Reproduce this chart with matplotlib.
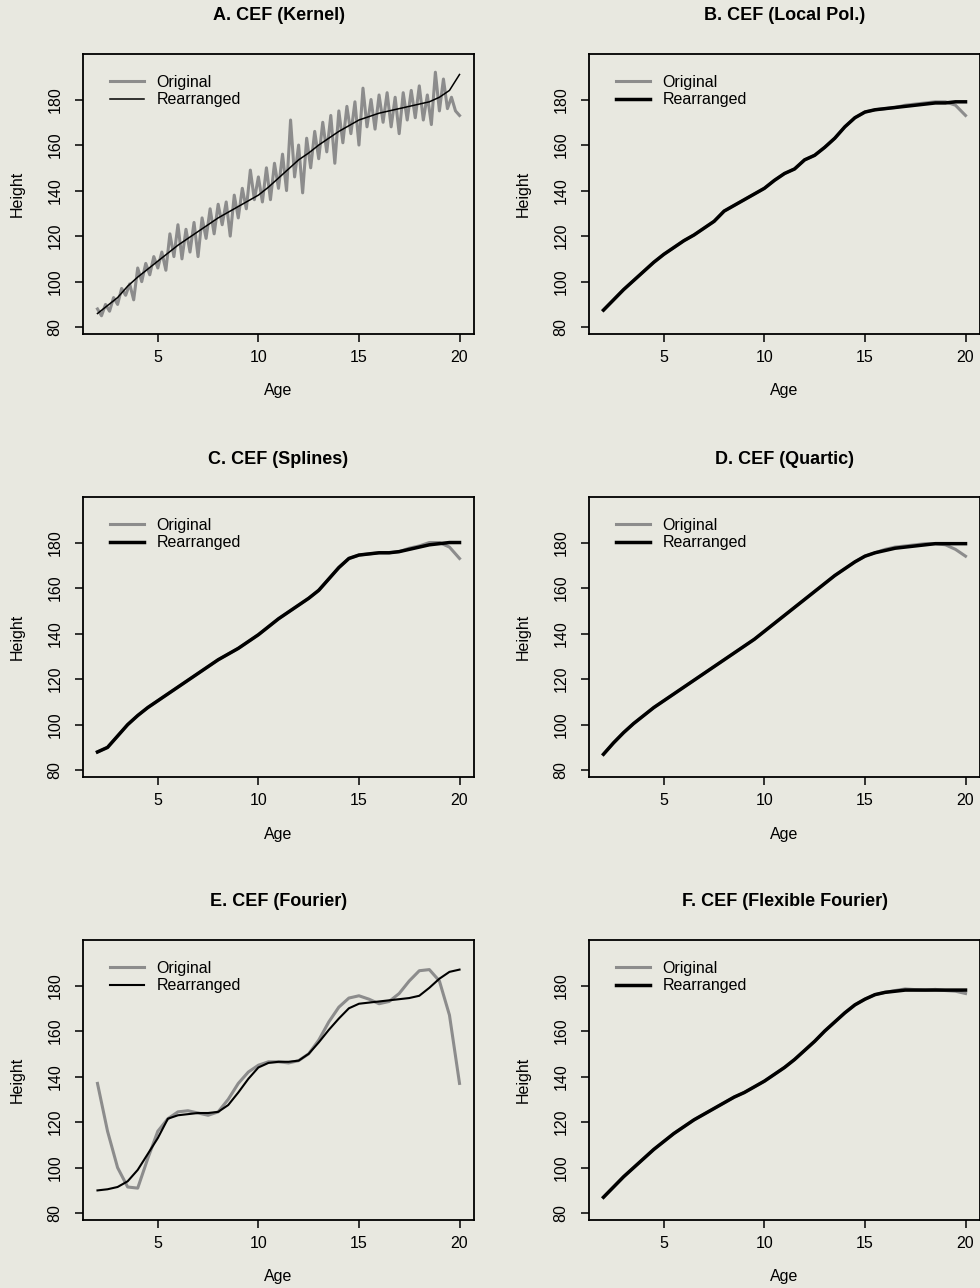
import matplotlib.pyplot as plt
import numpy as np

plt.rcParams['font.family'] = ['Liberation Sans', 'DejaVu Sans']

# evaluation grids (years of age)
ages_fine = np.round(np.arange(2.0, 20.01, 0.2), 1)
ages = np.round(np.arange(2.0, 20.01, 0.5), 1)

x_ticks = [5, 10, 15, 20]
y_ticks = [80, 100, 120, 140, 160, 180]

# A. kernel estimate (wiggly) and its rearrangement
kernel_original = [
    88, 85, 90, 87, 93, 90, 97, 94, 99, 92,
    106, 100, 108, 103, 111, 106, 113, 105, 121, 111,
    125, 110, 123, 113, 126, 111, 128, 119, 132, 121,
    134, 125, 135, 120, 138, 128, 141, 132, 149, 136,
    146, 135, 150, 136, 152, 141, 156, 140, 171, 146,
    160, 139, 163, 150, 166, 154, 170, 157, 173, 152,
    175, 161, 177, 165, 179, 160, 185, 168, 180, 167,
    182, 170, 183, 168, 181, 165, 183, 171, 184, 172,
    186, 171, 182, 169, 192, 175, 189, 176, 181, 175,
    173]
kernel_rearranged = [
    86, 89.5, 93, 98, 102, 105.5, 109, 112.5, 116, 119,
    122, 125, 128, 130.5, 133, 135.5, 138, 141.5, 145.5, 149.5,
    153.5, 156.5, 160, 163, 166, 168.5, 171, 172.5, 174, 175,
    176, 177, 178, 179, 181, 184, 191]

# B. local polynomial
locpol_original = [
    87.5, 92, 96.5, 100.5, 104.5, 108.5, 112, 115, 118, 120.5,
    123.5, 126.5, 131, 133.5, 136, 138.5, 141, 144.5, 147.5, 149.5,
    153.5, 155.5, 159, 163, 168, 172, 174.5, 175.5, 176, 176.5,
    177.5, 178, 178.5, 179, 179, 177.5, 173]
locpol_rearranged = [
    87.5, 92, 96.5, 100.5, 104.5, 108.5, 112, 115, 118, 120.5,
    123.5, 126.5, 131, 133.5, 136, 138.5, 141, 144.5, 147.5, 149.5,
    153.5, 155.5, 159, 163, 168, 172, 174.5, 175.5, 176, 176.5,
    177, 177.5, 178, 178.5, 178.5, 179, 179]

# C. splines
splines_original = [
    88, 90, 95, 100, 104, 107.5, 110.5, 113.5, 116.5, 119.5,
    122.5, 125.5, 128.5, 131, 133.5, 136.5, 139.5, 143, 146.5, 149.5,
    152.5, 155.5, 159, 164, 169, 173, 174.5, 175, 175.5, 175.5,
    176, 177.5, 178.5, 180, 180, 178, 173]
splines_rearranged = [
    88, 90, 95, 100, 104, 107.5, 110.5, 113.5, 116.5, 119.5,
    122.5, 125.5, 128.5, 131, 133.5, 136.5, 139.5, 143, 146.5, 149.5,
    152.5, 155.5, 159, 164, 169, 173, 174.5, 175, 175.5, 175.5,
    176, 177, 178, 179, 179.5, 180, 180]

# D. quartic
quartic_original = [
    87, 92, 96.5, 100.5, 104, 107.5, 110.5, 113.5, 116.5, 119.5,
    122.5, 125.5, 128.5, 131.5, 134.5, 137.5, 141, 144.5, 148, 151.5,
    155, 158.5, 162, 165.5, 168.5, 171.5, 174, 175.5, 177, 178,
    178.5, 179, 179.5, 179.5, 179, 177, 174]
quartic_rearranged = [
    87, 92, 96.5, 100.5, 104, 107.5, 110.5, 113.5, 116.5, 119.5,
    122.5, 125.5, 128.5, 131.5, 134.5, 137.5, 141, 144.5, 148, 151.5,
    155, 158.5, 162, 165.5, 168.5, 171.5, 174, 175.5, 176.5, 177.5,
    178, 178.5, 179, 179.5, 179.5, 179.5, 179.5]

# E. Fourier
fourier_original = [
    137, 116, 100, 91.5, 91, 104, 116, 121.5, 124.5, 125,
    124, 123, 124.5, 130, 137, 142, 145, 146.5, 146.5, 146,
    147, 150, 156, 164, 170.5, 174.5, 175.5, 174, 172, 173,
    176.5, 182, 186.5, 187, 182, 167, 137]
fourier_rearranged = [
    90, 90.5, 91.5, 94, 99, 106, 113, 121.5, 123, 123.5,
    124, 124, 124.5, 127.5, 133, 139, 144, 146, 146.5, 146.5,
    147, 150, 155, 160.5, 165.5, 170, 172, 172.5, 173, 173.5,
    174, 174.5, 175.5, 179, 183, 186, 187]

# F. flexible Fourier
flexfourier_original = [
    87, 91.5, 96, 100, 104, 108, 111.5, 115, 118, 121,
    123.5, 126, 128.5, 131, 133, 135.5, 138, 141, 144, 147.5,
    151.5, 155.5, 160, 164, 168, 171.5, 174, 176, 177, 177.8,
    178.5, 178.2, 178, 178.3, 177.8, 177.5, 176.5]
flexfourier_rearranged = [
    87, 91.5, 96, 100, 104, 108, 111.5, 115, 118, 121,
    123.5, 126, 128.5, 131, 133, 135.5, 138, 141, 144, 147.5,
    151.5, 155.5, 160, 164, 168, 171.5, 174, 176, 177, 177.5,
    178, 178, 178, 178, 178, 178, 178]

panels = [
    ("A. CEF (Kernel)", ages_fine, kernel_original, ages, kernel_rearranged, 1.1),
    ("B. CEF (Local Pol.)", ages, locpol_original, ages, locpol_rearranged, 2.5),
    ("C. CEF (Splines)", ages, splines_original, ages, splines_rearranged, 2.5),
    ("D. CEF (Quartic)", ages, quartic_original, ages, quartic_rearranged, 2.5),
    ("E. CEF (Fourier)", ages, fourier_original, ages, fourier_rearranged, 1.5),
    ("F. CEF (Flexible Fourier)", ages, flexfourier_original, ages, flexfourier_rearranged, 2.5),
]

BG = '#e8e8e0'
GRAY = '#8c8c8c'
FW, FH = 980, 1288
col_left = [83, 589]
row_top = [54, 497, 940]
W, H = 391, 280

fig = plt.figure(figsize=(FW / 100, FH / 100), dpi=100, facecolor=BG)

for i, (title, xo, yo, xr, yr, lw_r) in enumerate(panels):
    r, c = divmod(i, 2)
    ax = fig.add_axes((col_left[c] / FW, (FH - row_top[r] - H) / FH, W / FW, H / FH),
                      facecolor=BG)
    ax.plot(xo, yo, color=GRAY, lw=2.2, label='Original', solid_joinstyle='round')
    ax.plot(xr, yr, color='black', lw=lw_r, label='Rearranged')

    ax.set_xlim(1.28, 20.72)
    ax.set_ylim(77, 200)
    ax.set_xticks(x_ticks)
    ax.set_yticks(y_ticks)
    ax.tick_params(direction='out', length=6, width=1.1, labelsize=11.5, color='black')
    ax.tick_params(axis='x', pad=5.5)
    ax.tick_params(axis='y', pad=14, labelrotation=90)
    for lbl in ax.get_yticklabels():
        lbl.set_ha('center')
        lbl.set_va('center')
    for s in ax.spines.values():
        s.set_linewidth(1.3)
        s.set_color('black')

    ax.set_xlabel('Age', fontsize=11.5, va='center')
    ax.xaxis.set_label_coords(0.5, -57 / H)
    ax.set_ylabel('Height', fontsize=11.5, va='center')
    ax.yaxis.set_label_coords(-66 / W, 0.5)

    ax.text(0.5, 1 + 38 / H, title, transform=ax.transAxes, ha='center', va='center',
            fontsize=13, fontweight='bold')

    ax.legend(loc='upper left', bbox_to_anchor=(27 / W, 1 - 21 / H), frameon=False,
              fontsize=11.5, handlelength=2.1, handletextpad=0.8, labelspacing=0.15,
              borderpad=0, borderaxespad=0)

fig.savefig('out.png', dpi=100, facecolor=BG)
